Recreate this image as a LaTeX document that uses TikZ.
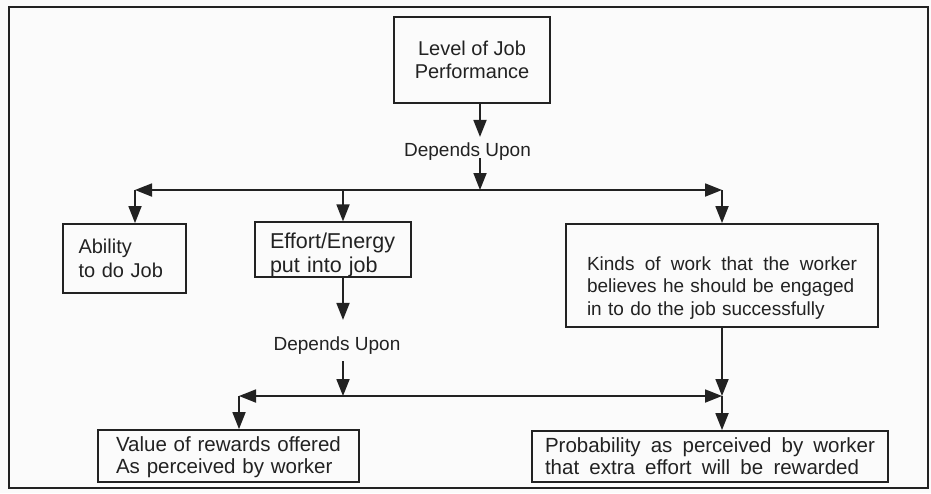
\documentclass[tikz,border=0pt]{standalone}
\usepackage{fontspec}
\setmainfont{Liberation Sans}
\usetikzlibrary{arrows.meta}
\definecolor{ink}{HTML}{222222}
\definecolor{paper}{HTML}{FBFBFB}
\newcommand{\spreadline}[2]{\hbox to #1{#2}}
\begin{document}
\begin{tikzpicture}[x=1pt,y=-1pt,
  box/.style={draw=ink, line width=1.8pt, inner sep=0pt, text=ink},
  lbl/.style={text=ink, inner sep=0pt, font=\fontsize{19}{22}\selectfont},
  conn/.style={draw=ink, line width=1.8pt},
  arr/.style={conn, -{Triangle[length=17pt,width=13pt]}},
  barr/.style={conn, {Triangle[length=17pt,width=13pt]}-{Triangle[length=17pt,width=13pt]}},
  frame/.style={draw=ink, line width=2.4pt}
]
\useasboundingbox (0,0) rectangle (931,493);
\fill[paper] (0,0) rectangle (931,493);
\draw[frame] (9,7) rectangle (928,488);

% boxes
\node[box, minimum width=156pt, minimum height=86pt, align=center,
      font=\fontsize{20}{23}\selectfont] (perf) at (472,60) {Level of Job\\Performance};
\node[box, minimum width=123pt, minimum height=69pt, text width=92pt, align=left,
      font=\fontsize{20}{24}\selectfont] (ability) at (124.5,258.5) {Ability\\to do Job};
\node[box, minimum width=156pt, minimum height=53pt, text width=126pt, align=left,
      font=\fontsize{21.5}{24}\selectfont] (effort) at (333,249.5)
      {\rule{0pt}{26pt}Effort/Energy\\put into job};
\node[box, minimum width=312pt, minimum height=103pt, text width=270pt, align=left,
      font=\fontsize{19}{22.5}\selectfont] (kinds) at (722,275.5)
      {\rule{0pt}{38pt}\spreadline{270pt}{Kinds\hfill of\hfill work\hfill that\hfill the\hfill worker}\\believes he should be engaged\\in to do the job successfully};
\node[box, minimum width=261pt, minimum height=52pt, text width=225pt, align=left,
      font=\fontsize{20.5}{22}\selectfont] (value) at (228.5,456)
      {\rule{0pt}{18pt}Value of rewards offered\\As perceived by worker};
\node[box, minimum width=356pt, minimum height=51pt, text width=330pt, align=left,
      font=\fontsize{20.5}{22}\selectfont] (prob) at (710,456.5)
      {\spreadline{330pt}{Probability\hfill as\hfill perceived\hfill by\hfill worker}\\\spreadline{314pt}{that\hfill extra\hfill effort\hfill will\hfill be\hfill rewarded}};

% labels
\node[lbl] (dep1) at (467.5,152) {Depends Upon};
\node[lbl] (dep2) at (337,346) {Depends Upon};

% junction coordinates
\coordinate (j1) at (480,190);
\coordinate (l1) at (135,190);
\coordinate (m1) at (343,190);
\coordinate (r1) at (722,190);
\coordinate (l2) at (239,396);
\coordinate (m2) at (343,396);
\coordinate (r2) at (722,396);

% upper connectors
\draw[arr] (perf.south -| j1) -- ([yshift=6pt]dep1.north -| j1);
\draw[arr] ([yshift=3pt]dep1.south -| j1) -- (j1);
\draw[barr] (l1) -- (r1);
\draw[arr] (l1) -- (l1 |- ability.north);
\draw[arr] (m1) -- (m1 |- effort.north);
\draw[arr] (r1) -- (r1 |- kinds.north);

% lower connectors
\draw[arr] (effort.south -| m2) -- ([yshift=17pt]dep2.north -| m2);
\draw[arr] ([yshift=-6pt]dep2.south -| m2) -- (m2);
\draw[barr] (l2) -- (r2);
\draw[arr] (kinds.south -| r2) -- (r2);
\draw[arr] (l2) -- (l2 |- value.north);
\draw[arr] (r2) -- (r2 |- prob.north);
\end{tikzpicture}
\end{document}
